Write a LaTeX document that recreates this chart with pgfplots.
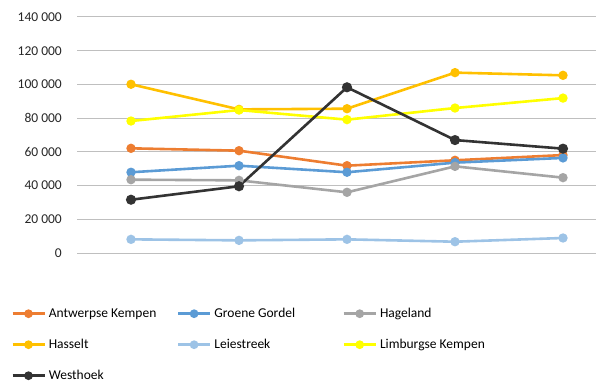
\documentclass[border=0pt]{standalone}
\usepackage{fontspec}
\setmainfont{Carlito}
\usepackage{pgfplots}
\pgfplotsset{compat=1.18}
\definecolor{cAK}{HTML}{ED7D31}
\definecolor{cGG}{HTML}{5B9BD5}
\definecolor{cHA}{HTML}{A5A5A5}
\definecolor{cHS}{HTML}{FFC000}
\definecolor{cLS}{HTML}{9DC3E6}
\definecolor{cLK}{HTML}{FFFF00}
\definecolor{cWH}{HTML}{333333}
\definecolor{grid}{HTML}{D9D9D9}
\definecolor{axl}{HTML}{BFBFBF}
\begin{document}
\begin{tikzpicture}[x=1pt,y=1pt]
\useasboundingbox (0,0) rectangle (596,-382);
\begin{axis}[
  at={(77pt,-253pt)}, anchor=south west,
  scale only axis, width=519pt, height=236pt,
  xmin=-0.5, xmax=4.3056, ymin=0, ymax=140000,
  xtick=\empty,
  scaled y ticks=false,
  ytick={0,20000,40000,60000,80000,100000,120000,140000},
  yticklabels={0,20 000,40 000,60 000,80 000,100 000,120 000,140 000},
  ymajorgrids, grid style={grid, line width=1pt},
  axis x line*=bottom, axis y line*=left,
  x axis line style={axl, line width=1pt, -},
  y axis line style={draw=none},
  major tick length=0pt,
  yticklabel style={font=\fontsize{13.5}{16}\selectfont, color=black!85, inner sep=0pt, anchor=east, xshift=-15pt},
  clip=true,
  every axis plot/.append style={line width=2.6pt, mark=*, mark size=3.3pt, mark options={solid}},
  legend columns=3,
  legend style={at={(-0.12717,-0.2288)}, anchor=north west, draw=none, fill=none,
    inner sep=0pt, row sep=18pt, font=\fontsize{13.5}{16}\selectfont,
    nodes={inner sep=0pt, text height=10pt, text depth=3pt}},
  /tikz/every odd column/.append style={column sep=3pt},
  /tikz/every even column/.append style={column sep=11pt},
  legend image code/.code={\draw[mark repeat=2,mark phase=2,line width=2.6pt,mark size=3pt] plot coordinates {(0pt,0pt) (16pt,0pt) (32pt,0pt)};},
]
\addplot[cAK] coordinates {(0,62100) (1,60700) (2,51800) (3,55000) (4,58100)};
\addlegendentry{\makebox[117pt][l]{Antwerpse Kempen}}
\addplot[cGG] coordinates {(0,47900) (1,51800) (2,47900) (3,53600) (4,56400)};
\addlegendentry{\makebox[117pt][l]{Groene Gordel}}
\addplot[cHA] coordinates {(0,43500) (1,43100) (2,36000) (3,51400) (4,44700)};
\addlegendentry{\makebox[117pt][l]{Hageland}}
\addplot[cHS] coordinates {(0,100100) (1,85200) (2,85600) (3,107000) (4,105400)};
\addlegendentry{\makebox[117pt][l]{Hasselt}}
\addplot[cLS] coordinates {(0,8100) (1,7500) (2,8100) (3,6700) (4,8900)};
\addlegendentry{\makebox[117pt][l]{Leiestreek}}
\addplot[cLK] coordinates {(0,78300) (1,84800) (2,79100) (3,86000) (4,91900)};
\addlegendentry{\makebox[117pt][l]{Limburgse Kempen}}
\addplot[cWH, mark size=3.7pt] coordinates {(0,31600) (1,39600) (2,98300) (3,67000) (4,61900)};
\addlegendentry{\makebox[117pt][l]{Westhoek}}
\end{axis}
\end{tikzpicture}
\end{document}
